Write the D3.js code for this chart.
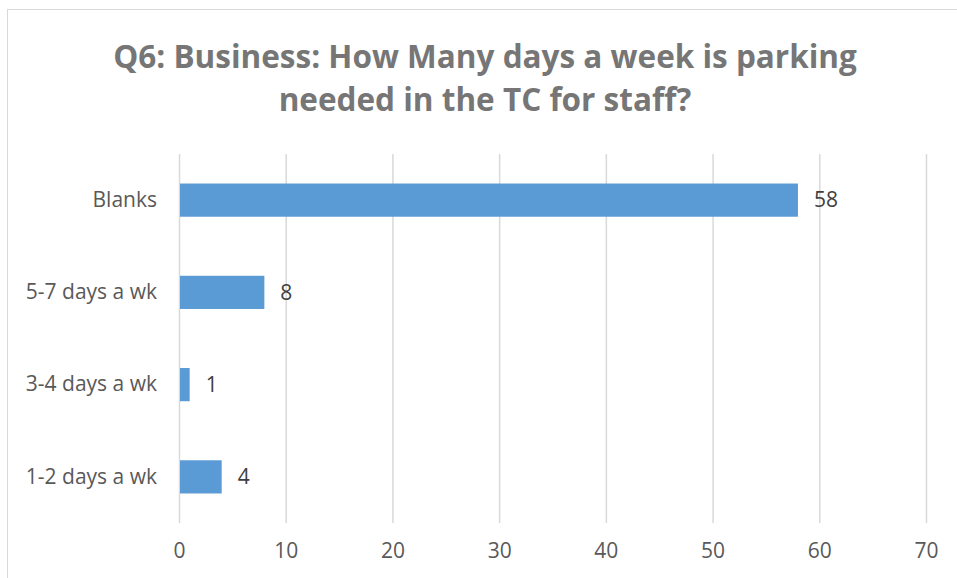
<!DOCTYPE html>
<html>
<head>
<meta charset="utf-8">
<script src="https://cdn.jsdelivr.net/npm/d3@7"></script>
<style>
  body { margin: 0; background: #fff; }
  text { font-family: "Open Sans", "Noto Sans", sans-serif; }
</style>
</head>
<body>
<div id="chart"></div>
<script>
const categories = ['Blanks', '5-7 days a wk', '3-4 days a wk', '1-2 days a wk'];
const values = [58, 8, 1, 4];
const xTicks = [0, 10, 20, 30, 40, 50, 60, 70];
const titleLines = ['Q6: Business: How Many days a week is parking', 'needed in the TC for staff?'];

const W = 957, H = 578;
const margin = { left: 179, right: 31, top: 154, bottom: 55 };
const width = W - margin.left - margin.right;
const height = H - margin.top - margin.bottom;

const svg = d3.select('#chart').append('svg')
    .attr('width', W)
    .attr('height', H);

// chart frame
svg.append('rect')
    .attr('x', 7.5).attr('y', 9.5)
    .attr('width', W + 10).attr('height', H + 10)
    .attr('fill', '#fff')
    .attr('stroke', '#d9d9d9');

svg.append('g')
    .selectAll('text')
    .data(titleLines)
    .enter().append('text')
    .attr('x', 485)
    .attr('y', (d, i) => 68 + i * 43)
    .attr('text-anchor', 'middle')
    .attr('fill', '#767676')
    .style('font-size', '31.5px')
    .style('font-weight', 'bold')
    .text((d) => d);

const g = svg.append('g')
    .attr('transform', `translate(${margin.left}, ${margin.top})`);

const x = d3.scaleLinear().domain([0, 70]).range([0, width]);
const y = d3.scaleBand().domain(categories).range([0, height]).paddingInner(0.64).paddingOuter(0.32);

g.append('g')
    .selectAll('line')
    .data(xTicks)
    .enter().append('line')
    .attr('x1', (d) => x(d) + 0.5).attr('x2', (d) => x(d) + 0.5)
    .attr('y1', 0).attr('y2', height)
    .attr('stroke', '#d9d9d9')
    .attr('stroke-width', 1.5);

const xAxis = d3.axisBottom(x).tickValues(xTicks).tickSize(0).tickPadding(20);
g.append('g')
    .attr('transform', `translate(0, ${height})`)
    .call(xAxis)
    .call((a) => a.select('.domain').remove())
    .selectAll('text')
    .attr('fill', '#595959')
    .style('font-size', '21px');

const yAxis = d3.axisLeft(y).tickSize(0).tickPadding(22);
g.append('g')
    .call(yAxis)
    .call((a) => a.select('.domain').remove())
    .selectAll('text')
    .attr('fill', '#595959')
    .style('font-size', '21px');

g.selectAll('rect.bar')
    .data(values)
    .enter().append('rect')
    .attr('class', 'bar')
    .attr('x', x(0) + 1)
    .attr('y', (d, i) => y(categories[i]))
    .attr('width', (d) => x(d) - x(0) - 1)
    .attr('height', y.bandwidth())
    .attr('fill', '#5b9bd5');

g.selectAll('text.value')
    .data(values)
    .enter().append('text')
    .attr('class', 'value')
    .attr('x', (d) => x(d) + 16)
    .attr('y', (d, i) => y(categories[i]) + y.bandwidth() / 2)
    .attr('dy', '0.35em')
    .attr('fill', '#404040')
    .style('font-size', '21px')
    .text((d) => d);
</script>
</body>
</html>
